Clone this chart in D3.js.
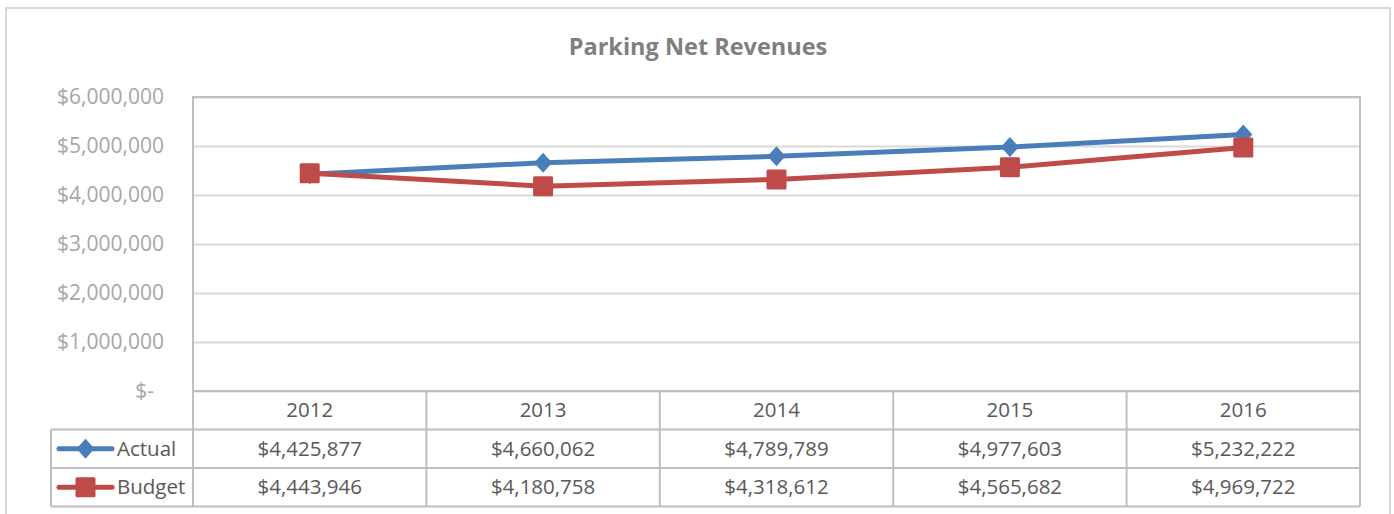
<!DOCTYPE html>
<html lang="en">
<head>
    <meta charset="UTF-8">
    <title>Parking Net Revenues</title>
    <script src="https://cdn.jsdelivr.net/npm/d3@7"></script>
    <style>
        body { margin: 0; background: #fff; }
        text { font-family: "Open Sans", "Noto Sans", sans-serif; }
    </style>
</head>
<body>
<script>
    var years = ["2012", "2013", "2014", "2015", "2016"];
    var actual = [4425877, 4660062, 4789789, 4977603, 5232222];
    var budget = [4443946, 4180758, 4318612, 4565682, 4969722];
    var yTicks = [0, 1000000, 2000000, 3000000, 4000000, 5000000, 6000000];

    var series = [
        { name: "Actual", values: actual, color: "#4a7ebb", marker: "diamond" },
        { name: "Budget", values: budget, color: "#be4b48", marker: "square" }
    ];

    var w = 1394, h = 514;
    var plot = { left: 193, right: 1360, top: 97, bottom: 391 };
    var rowH = 38.5, legendLeft = 51;
    var gridColor = "#d9d9d9", borderColor = "#bfbfbf";

    var svg = d3.select("body").append("svg")
        .attr("width", w)
        .attr("height", h);

    // outer chart frame
    svg.append("rect")
        .attr("x", 6).attr("y", 8)
        .attr("width", 1384).attr("height", 520)
        .attr("fill", "#fff")
        .attr("stroke", gridColor)
        .attr("stroke-width", 2);

    svg.append("text")
        .attr("x", 698).attr("y", 55)
        .attr("text-anchor", "middle")
        .attr("font-size", "23.5px")
        .attr("font-weight", "bold")
        .attr("fill", "#7f7f7f")
        .text("Parking Net Revenues");

    var x = d3.scaleBand().domain(years).range([plot.left, plot.right]);
    var y = d3.scaleLinear().domain([0, 6000000]).range([plot.bottom, plot.top]);

    var fmt = d3.format("$,.0f");
    var yFmt = function (d) { return d === 0 ? "$-" : fmt(d); };

    // gridlines + y labels
    var yAxis = svg.append("g")
        .attr("transform", "translate(" + plot.left + ",0)")
        .call(d3.axisLeft(y).tickValues(yTicks).tickFormat(yFmt)
            .tickSize(-(plot.right - plot.left)).tickPadding(29));
    yAxis.select(".domain").remove();
    yAxis.selectAll("line").attr("stroke", gridColor).attr("stroke-width", 2);
    yAxis.selectAll("text")
        .attr("font-size", "21px")
        .attr("font-family", "'Open Sans', sans-serif")
        .attr("fill", "#a6a6a6")
        .attr("dx", function (d) { return d === 0 ? -10 : 0; });

    // plot border
    svg.append("rect")
        .attr("x", plot.left).attr("y", plot.top)
        .attr("width", plot.right - plot.left)
        .attr("height", plot.bottom - plot.top)
        .attr("fill", "none")
        .attr("stroke", borderColor)
        .attr("stroke-width", 2);

    // data table
    var tTop = plot.bottom;
    var tBottom = tTop + rowH * 3;
    var table = svg.append("g").attr("stroke", borderColor).attr("stroke-width", 2);
    // horizontal lines
    [1, 2, 3].forEach(function (r) {
        table.append("line")
            .attr("x1", legendLeft).attr("x2", plot.right)
            .attr("y1", tTop + rowH * r).attr("y2", tTop + rowH * r);
    });
    // column lines
    table.append("line")
        .attr("x1", legendLeft).attr("x2", legendLeft)
        .attr("y1", tTop + rowH).attr("y2", tBottom);
    years.forEach(function (yr) {
        table.append("line")
            .attr("x1", x(yr)).attr("x2", x(yr))
            .attr("y1", tTop).attr("y2", tBottom);
    });
    table.append("line")
        .attr("x1", plot.right).attr("x2", plot.right)
        .attr("y1", tTop).attr("y2", tBottom);

    svg.selectAll("text.year")
        .data(years)
        .enter()
        .append("text")
        .attr("class", "year")
        .attr("x", function (d) { return x(d) + x.bandwidth() / 2; })
        .attr("y", tTop + rowH / 2 + 7)
        .attr("text-anchor", "middle")
        .attr("font-size", "20.5px")
        .attr("fill", "#595959")
        .text(function (d) { return d; });

    var line = d3.line()
        .x(function (d, i) { return x(years[i]) + x.bandwidth() / 2; })
        .y(function (d) { return y(d); });

    function drawMarker(g, type, cx, cy, color) {
        if (type === "diamond") {
            g.append("path")
                .attr("d", "M" + cx + "," + (cy - 10) + "L" + (cx + 9) + "," + cy +
                    "L" + cx + "," + (cy + 10) + "L" + (cx - 9) + "," + cy + "Z")
                .attr("fill", color);
        } else {
            g.append("rect")
                .attr("x", cx - 10).attr("y", cy - 10)
                .attr("width", 20).attr("height", 20)
                .attr("rx", 1.5)
                .attr("fill", color);
        }
    }

    series.forEach(function (s, si) {
        var g = svg.append("g");
        g.append("path")
            .datum(s.values)
            .attr("d", line)
            .attr("fill", "none")
            .attr("stroke", s.color)
            .attr("stroke-width", 5)
            .attr("stroke-linejoin", "round")
            .attr("stroke-linecap", "round");
        s.values.forEach(function (v, i) {
            drawMarker(g, s.marker, x(years[i]) + x.bandwidth() / 2, y(v), s.color);
        });

        // table row
        var rowY = tTop + rowH * (si + 1) + rowH / 2;
        var lg = svg.append("g");
        lg.append("line")
            .attr("x1", 59).attr("x2", 112)
            .attr("y1", rowY).attr("y2", rowY)
            .attr("stroke", s.color)
            .attr("stroke-width", 5)
            .attr("stroke-linecap", "round");
        drawMarker(lg, s.marker, 85.5, rowY, s.color);
        lg.append("text")
            .attr("x", 117).attr("y", rowY + 7)
            .attr("font-size", "20.5px")
            .attr("fill", "#595959")
            .text(s.name);

        svg.selectAll("text.val" + si)
            .data(s.values)
            .enter()
            .append("text")
            .attr("class", "val" + si)
            .attr("x", function (d, i) { return x(years[i]) + x.bandwidth() / 2; })
            .attr("y", rowY + 7)
            .attr("text-anchor", "middle")
            .attr("font-size", "20.5px")
            .attr("fill", "#595959")
            .text(function (d) { return fmt(d); });
    });
</script>
</body>
</html>
